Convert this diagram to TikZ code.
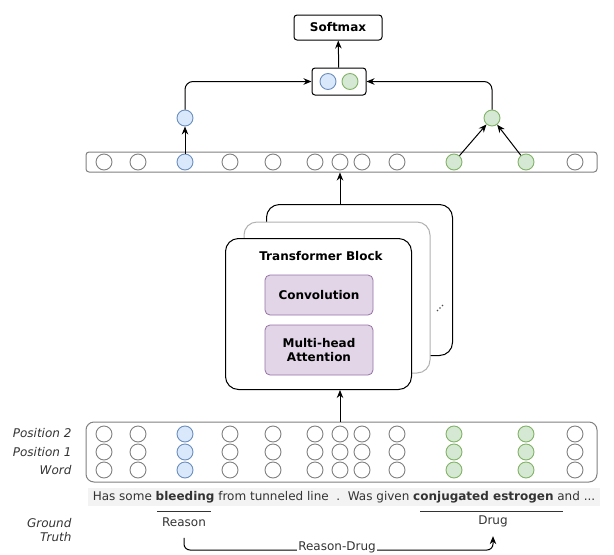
\documentclass[tikz,border=0pt]{standalone}
\usepackage{fontspec}
\setmainfont{DejaVu Sans}
\usetikzlibrary{arrows.meta}

\definecolor{bluefill}{HTML}{DAE8FC}
\definecolor{blueline}{HTML}{6C8EBF}
\definecolor{greenfill}{HTML}{D5E8D4}
\definecolor{greenline}{HTML}{82B366}
\definecolor{purplefill}{HTML}{E1D5E7}
\definecolor{purpleline}{HTML}{9673A6}
\definecolor{textgray}{HTML}{333333}
\definecolor{bandgray}{HTML}{F3F3F3}

\begin{document}
\begin{tikzpicture}[x=1pt,y=-1pt,
  font=\fontsize{12}{14}\selectfont,
  unit/.style={circle,draw=gray,line width=0.9pt,minimum size=16pt,inner sep=0pt},
  bunit/.style={unit,draw=blueline,fill=bluefill},
  gunit/.style={unit,draw=greenline,fill=greenfill},
  bar/.style={draw=gray,line width=1pt,inner sep=0pt,minimum width=511pt},
  card/.style={draw,line width=1pt,fill=white,rounded corners=13pt,minimum width=186pt,minimum height=151pt,inner sep=0pt},
  layer/.style={draw=purpleline,fill=purplefill,line width=0.8pt,rounded corners=5pt,minimum width=108pt,inner sep=2pt,align=center,font=\fontsize{12}{14}\selectfont\bfseries},
  arr/.style={-{Stealth[length=8pt,width=6.5pt]},line width=1pt},
  lab/.style={anchor=east,text=textgray,font=\fontsize{12}{14}\selectfont\itshape}]
\useasboundingbox (0,0) rectangle (614,555);

\node[draw,line width=1pt,rounded corners=3pt,minimum width=88pt,minimum height=25pt,font=\fontsize{12}{14}\selectfont\bfseries] (soft) at (338,27.5) {Softmax};
\node[draw,line width=1pt,rounded corners=3pt,minimum width=54pt,minimum height=27pt] (pair) at (339,81.5) {};
\node[bunit] (pb) at (328,81.5) {};
\node[gunit] (pg) at (350,81.5) {};
\node[bunit] (bup) at (185,118) {};
\node[gunit] (gup) at (492,118) {};

% sequence output
\node[bar,rounded corners=3pt,minimum height=20pt] (tbar) at (341.5,162) {};
\foreach \x/\s [count=\i] in {104/unit,138/unit,185/bunit,230/unit,273/unit,315/unit,340/unit,362/unit,397/unit,454/gunit,526/gunit,575/unit}
  \node[\s] (t\i) at (\x,162) {};

\draw[arr] (t3) -- (bup);
\draw[arr] (t10) -- (gup);
\draw[arr] (t11) -- (gup);
\draw[arr,rounded corners=8pt] (bup) |- (pair);
\draw[arr,rounded corners=8pt] (gup) |- (pair);
\draw[arr] (pair) -- (soft);

% transformer stack
\node[card] (back) at (359.5,280) {};
\node[card,draw=black!30] (mid) at (337,297.5) {};
\node[card] (front) at (318.5,314) {};
\node[font=\fontsize{12}{14}\selectfont\bfseries] (tblock) at (321,256) {Transformer Block};
\node[layer,minimum height=40pt] (conv) at (319,295) {Convolution};
\node[layer,minimum height=50pt] (mha) at (319,350) {Multi-head\\Attention};
\foreach \d in {-2.5,0,2.5}
  \fill[black!70] (440+\d,308-\d) circle (0.8pt);
\draw[arr] (back.north -| t7) -- (tbar.south -| t7);

% input embeddings
\node[bar,rounded corners=8pt,minimum height=60pt] (bbar) at (341.5,452) {};
\foreach \x/\s [count=\i] in {104/unit,138/unit,185/bunit,230/unit,273/unit,315/unit,340/unit,362/unit,397/unit,454/gunit,526/gunit,575/unit}{
  \node[\s] (q\i) at (\x,434) {};
  \node[\s] (p\i) at (\x,452) {};
  \node[\s] (w\i) at (\x,470) {};
}
\node[lab] (pos2) at (75,433) {Position 2};
\node[lab] (pos1) at (75,452) {Position 1};
\node[lab] (word) at (75,470) {Word};
\draw[arr] (bbar.north -| t7) -- (front.south -| t7);

% sentence and labels
\node[fill=bandgray,minimum width=512pt,minimum height=18pt,inner sep=0pt,text=textgray] (sent) at (344,497)
  {Has some \textbf{bleeding} from tunneled line~~.~~Was given \textbf{conjugated estrogen} and ...};
\draw[line width=1pt,textgray] (157,511) -- (211,511);
\draw[line width=1pt,textgray] (420,511) -- (563,511);
\node[text=textgray] (reason) at (184,522) {Reason};
\node[text=textgray] (drug) at (493,521) {Drug};
\node[lab,align=right] (gt) at (75,530) {Ground\\Truth};
\coordinate (rd) at (337,550);
\draw[arr,rounded corners=6pt,shorten <=8pt,shorten >=6pt] (reason.south) |- (rd) -| (drug.south);
\node[fill=white,inner sep=1pt,text=textgray] (rdlab) at (337,547) {Reason-Drug};
\end{tikzpicture}
\end{document}
